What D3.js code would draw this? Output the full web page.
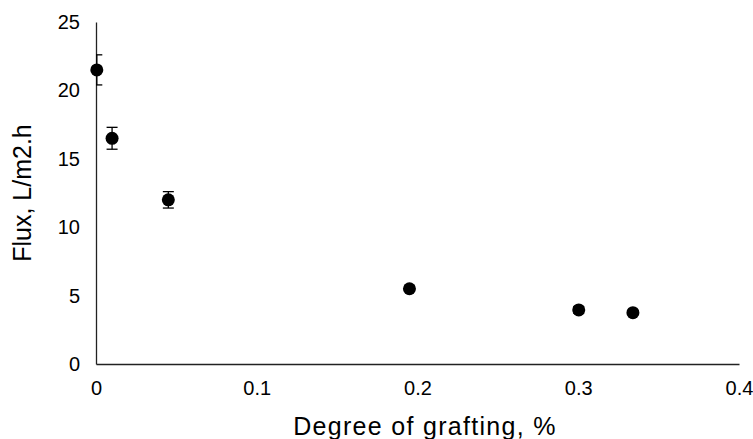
<!DOCTYPE html>
<html><head><meta charset="utf-8">
<script src="https://cdn.jsdelivr.net/npm/d3@7"></script>
<style>body{margin:0;background:#fff}svg{display:block}text{font-family:"Liberation Sans",Arial,Helvetica,sans-serif;fill:#000}</style>
</head><body>
<svg id="c" width="753" height="439"></svg>
<script>
const grafting = [0.0005, 0.01, 0.045, 0.195, 0.3003, 0.334];
const flux = [21.5, 16.5, 12.0, 5.5, 3.95, 3.75];
const fluxErr = [1.1, 0.8, 0.6, 0.2, 0.25, 0.15];
const xTicks = [0, 0.1, 0.2, 0.3, 0.4];
const yTicks = [0, 5, 10, 15, 20, 25];

const svg = d3.select("#c");
const L = 96, R = 739, T = 22, B = 364;
const x = d3.scaleLinear().domain([0, 0.4]).range([L, R]);
const y = d3.scaleLinear().domain([0, 25]).range([B, T]);

svg.append("defs").append("clipPath").attr("id","plot")
  .append("rect").attr("x",L).attr("y",0).attr("width",R-L).attr("height",B+1);

const xAxis = svg.append("g").attr("transform",`translate(0,${B})`)
  .call(d3.axisBottom(x).tickValues(xTicks).tickSize(0).tickPadding(17).tickFormat(d=>d===0?"0":d3.format(".1f")(d)));
xAxis.select(".domain").attr("stroke","#222").attr("stroke-width",1.3);
xAxis.selectAll("text").style("font-size","20px").attr("dy","0.71em");

const yAxis = svg.append("g").attr("transform",`translate(${L},0)`)
  .call(d3.axisLeft(y).tickValues(yTicks).tickSize(0).tickPadding(16).tickFormat(d3.format("d")));
yAxis.select(".domain").attr("stroke","#222").attr("stroke-width",1.3);
yAxis.selectAll("text").style("font-size","20px");

const data = grafting.map((g,i)=>({g, f:flux[i], e:fluxErr[i]}));
const eb = svg.append("g").attr("clip-path","url(#plot)").attr("stroke","#000").attr("stroke-width",1.3);
data.forEach(d=>{
  const cx = x(d.g);
  eb.append("line").attr("x1",cx).attr("x2",cx).attr("y1",y(d.f+d.e)).attr("y2",y(d.f-d.e));
  [d.f+d.e, d.f-d.e].forEach(v=>{
    eb.append("line").attr("x1",cx-5.5).attr("x2",cx+5.5).attr("y1",y(v)).attr("y2",y(v));
  });
});
svg.append("g").selectAll("circle").data(data).join("circle")
  .attr("cx",d=>x(d.g)).attr("cy",d=>y(d.f)).attr("r",6.5).attr("fill","#000");

svg.append("text").attr("x",425).attr("y",435).attr("text-anchor","middle")
  .style("font-size","25px").style("letter-spacing","1.3px").text("Degree of grafting, %");
svg.append("text").attr("transform","translate(31,193) rotate(-90)").attr("text-anchor","middle")
  .style("font-size","25px").text("Flux, L/m2.h");
</script>
</body></html>
